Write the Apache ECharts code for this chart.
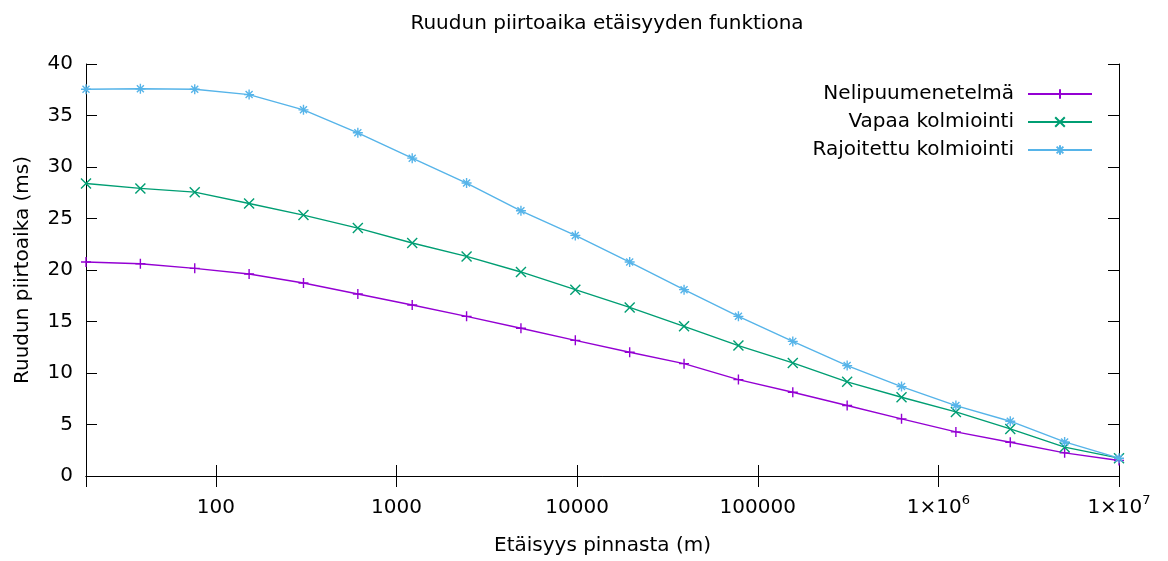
<!DOCTYPE html>
<html>
<head>
<meta charset="utf-8">
<script src="https://cdn.jsdelivr.net/npm/echarts@6/dist/echarts.min.js"></script>
<style>
  html, body { margin: 0; padding: 0; background: #fff; }
  #chart { width: 1168px; height: 561px; }
</style>
</head>
<body>
<div id="chart"></div>
<script>
// Distance from the surface (m)
const distances = [19.073486328125, 38.14697265625, 76.2939453125, 152.587890625,
  305.17578125, 610.3515625, 1220.703125, 2441.40625, 4882.8125, 9765.625,
  19531.25, 39062.5, 78125, 156250, 312500, 625000, 1250000, 2500000, 5000000, 10000000];

// Tile draw time (ms) per method
const nelipuu = [20.77, 20.61, 20.16, 19.61, 18.74, 17.67, 16.6, 15.5, 14.34, 13.17,
  12.01, 10.91, 9.36, 8.13, 6.84, 5.55, 4.28, 3.28, 2.25, 1.5];
const vapaa = [28.4, 27.92, 27.56, 26.46, 25.33, 24.07, 22.62, 21.32, 19.81, 18.09,
  16.37, 14.53, 12.66, 10.98, 9.14, 7.65, 6.22, 4.57, 2.8, 1.73];
const rajoitettu = [37.55, 37.6, 37.55, 37.03, 35.55, 33.32, 30.86, 28.44, 25.75, 23.36,
  20.77, 18.09, 15.5, 13.07, 10.72, 8.68, 6.84, 5.32, 3.31, 1.73];

const seriesNames = ['Nelipuumenetelmä', 'Vapaa kolmiointi', 'Rajoitettu kolmiointi'];
const yTicks = [0, 5, 10, 15, 20, 25, 30, 35, 40];

const FONT = 'DejaVu Sans';
const FS = 20;
const colors = ['#9400d3', '#009e73', '#56b4e9'];
const symbols = [
  'path://M5 0L5 10M0 5L10 5',
  'path://M0 0L10 10M0 10L10 0',
  'path://M5 0L5 10M0 5L10 5M1.5 1.5L8.5 8.5M1.5 8.5L8.5 1.5'
];
const datasets = [nelipuu, vapaa, rajoitettu];

const xMin = distances[0];
const xMax = distances[distances.length - 1];

function isPow10(v) {
  const l = Math.log10(v);
  return Math.abs(l - Math.round(l)) < 1e-6;
}

function xLabel(v) {
  if (!isPow10(v)) return '';
  const e = Math.round(Math.log10(v));
  if (e >= 6) return '{b|1×10}{sup|' + e + '}';
  return '{b|' + Math.pow(10, e) + '}';
}

const chart = echarts.init(document.getElementById('chart'), null, { renderer: 'canvas' });

const tickStyle = { show: true, inside: true, length: 11, lineStyle: { color: '#000', width: 1 } };
const lineStyleAxis = { show: true, lineStyle: { color: '#000', width: 1 } };

chart.setOption({
  backgroundColor: '#fff',
  animation: false,
  title: {
    text: 'Ruudun piirtoaika etäisyyden funktiona',
    left: 602,
    textAlign: 'center',
    top: 9,
    textStyle: { fontFamily: FONT, fontSize: FS, fontWeight: 'normal', color: '#000' }
  },
  grid: { left: 86, right: 49, top: 64, bottom: 84.5, containLabel: false },
  legend: {
    orient: 'vertical',
    right: 70,
    top: 79,
    align: 'right',
    itemWidth: 64,
    itemHeight: 12,
    itemGap: 8,
    textStyle: { fontFamily: FONT, fontSize: FS, lineHeight: 20, color: '#000', padding: [0, 9, 0, 0] },
    data: seriesNames
  },
  xAxis: [{
    type: 'log',
    logBase: 10,
    min: xMin,
    max: xMax,
    position: 'bottom',
    name: 'Etäisyys pinnasta (m)',
    nameLocation: 'middle',
    nameGap: 60,
    nameTextStyle: { fontFamily: FONT, fontSize: FS, color: '#000' },
    axisLine: lineStyleAxis,
    axisTick: tickStyle,
    splitLine: { show: false },
    minorTick: { show: false },
    axisLabel: {
      margin: 18,
      formatter: xLabel,
      showMinLabel: false,
      rich: {
        b: { fontFamily: FONT, fontSize: FS, color: '#000', lineHeight: 24, verticalAlign: 'bottom' },
        sup: { fontFamily: FONT, fontSize: 13, color: '#000', lineHeight: 24, verticalAlign: 'top', padding: [0, 0, 10, 0] }
      }
    }
  }, {
    type: 'log',
    logBase: 10,
    min: xMin,
    max: xMax,
    position: 'top',
    axisLine: lineStyleAxis,
    axisTick: tickStyle,
    axisLabel: { show: false },
    splitLine: { show: false }
  }],
  yAxis: [{
    type: 'value',
    min: yTicks[0],
    max: yTicks[yTicks.length - 1],
    interval: 5,
    position: 'left',
    name: 'Ruudun piirtoaika (ms)',
    nameLocation: 'middle',
    nameGap: 53,
    nameTextStyle: { fontFamily: FONT, fontSize: FS, color: '#000' },
    axisLine: lineStyleAxis,
    axisTick: tickStyle,
    splitLine: { show: false },
    axisLabel: { margin: 13, fontFamily: FONT, fontSize: FS, color: '#000' }
  }, {
    type: 'value',
    min: yTicks[0],
    max: yTicks[yTicks.length - 1],
    interval: 5,
    position: 'right',
    axisLine: lineStyleAxis,
    axisTick: tickStyle,
    axisLabel: { show: false },
    splitLine: { show: false }
  }],
  series: seriesNames.map((name, i) => ({
    name: name,
    type: 'line',
    xAxisIndex: 0,
    yAxisIndex: 0,
    data: distances.map((d, j) => [d, datasets[i][j]]),
    symbol: symbols[i],
    symbolSize: 10,
    showAllSymbol: true,
    lineStyle: { color: colors[i], width: 1.4 },
    itemStyle: { color: colors[i], borderColor: colors[i], borderWidth: 1.4 },
    emphasis: { disabled: true },
    z: 2 + i
  }))
});
</script>
</body>
</html>
